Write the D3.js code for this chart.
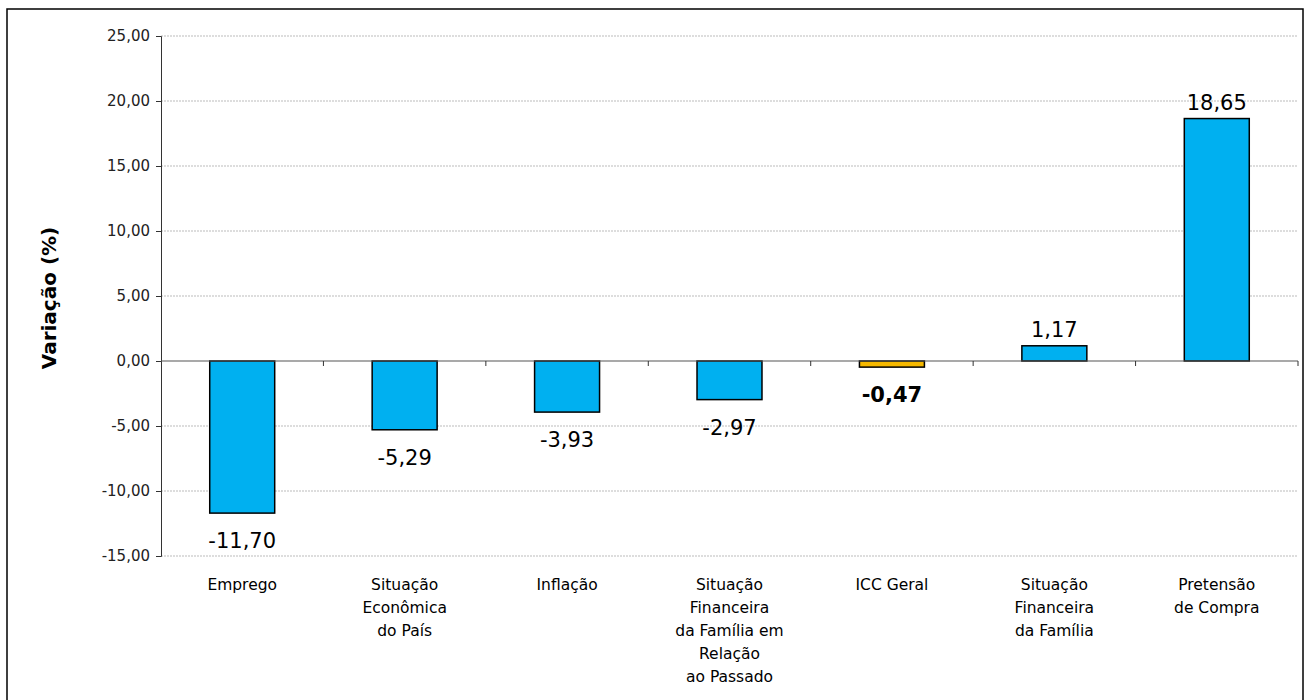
<!DOCTYPE html>
<html><head><meta charset="utf-8">
<script src="https://cdn.jsdelivr.net/npm/d3@7/dist/d3.min.js"></script>
<style>body{margin:0;background:#fff}svg{display:block}</style>
</head><body>
<svg id="c" width="1306" height="700"></svg>
<script>
const categories = [
  ["Emprego"],
  ["Situação","Econômica","do País"],
  ["Inflação"],
  ["Situação","Financeira","da Família em","Relação","ao Passado"],
  ["ICC Geral"],
  ["Situação","Financeira","da Família"],
  ["Pretensão","de Compra"]
];
const values = [-11.70, -5.29, -3.93, -2.97, -0.47, 1.17, 18.65];
const highlight = [false, false, false, false, true, false, false];
const yTicks = [-15, -10, -5, 0, 5, 10, 15, 20, 25];

const svg = d3.select("#c");
const font = "DejaVu Sans, Verdana, sans-serif";
const fmt = v => v.toFixed(2).replace(".", ",");

// frame
svg.append("rect").attr("x",7).attr("y",9).attr("width",1296).attr("height",720)
  .attr("fill","none").attr("stroke","#000").attr("stroke-width",1.5);

const x0 = 161, x1 = 1298;
const y = d3.scaleLinear().domain([-15,25]).range([556,36]);
const x = d3.scaleBand().domain(d3.range(values.length)).range([x0,x1]).paddingInner(0).paddingOuter(0);

// gridlines
svg.append("g").selectAll("line").data(yTicks.filter(t=>t!==0)).join("line")
  .attr("x1",x0).attr("x2",x1).attr("y1",d=>y(d)).attr("y2",d=>y(d))
  .attr("stroke","#bbb").attr("stroke-width",1).attr("stroke-dasharray","2,1");

// y axis
const yAxis = d3.axisLeft(y).tickValues(yTicks).tickSize(5).tickPadding(6).tickFormat(fmt);
const ga = svg.append("g").attr("transform",`translate(${x0},0)`).call(yAxis);
ga.select(".domain").attr("stroke","#333");
ga.selectAll(".tick line").attr("stroke","#333");
ga.selectAll("text").attr("font-family",font).attr("font-size",15).attr("fill","#222");

// bars
const bw = x.bandwidth()*0.4;
svg.append("g").selectAll("rect").data(values).join("rect")
  .attr("x",(d,i)=>x(i)+x.bandwidth()/2-bw/2)
  .attr("width",bw)
  .attr("y",d=>y(Math.max(0,d)))
  .attr("height",d=>Math.abs(y(d)-y(0)))
  .attr("fill",(d,i)=>highlight[i]?"#F5B800":"#00B0F0")
  .attr("stroke","#000").attr("stroke-width",1.5);

// zero line + category ticks
svg.append("line").attr("x1",x0).attr("x2",x1).attr("y1",y(0)).attr("y2",y(0))
  .attr("stroke","#555").attr("stroke-width",1.2);
svg.append("g").selectAll("line").data(d3.range(1,values.length+1)).join("line")
  .attr("x1",i=>x0+i*x.bandwidth()).attr("x2",i=>x0+i*x.bandwidth())
  .attr("y1",y(0)).attr("y2",y(0)+5).attr("stroke","#333");

// value labels
svg.append("g").selectAll("text").data(values).join("text")
  .attr("x",(d,i)=>x(i)+x.bandwidth()/2)
  .attr("y",d=>d>=0? y(d)-9 : y(d)+35)
  .attr("text-anchor","middle")
  .attr("font-family",font).attr("font-size",21)
  .attr("font-weight",(d,i)=>highlight[i]?"bold":"normal")
  .attr("fill","#000")
  .text(fmt);

// category labels
const cg = svg.append("g").selectAll("text").data(categories).join("text")
  .attr("x",(d,i)=>x(i)+x.bandwidth()/2)
  .attr("y",590)
  .attr("text-anchor","middle")
  .attr("font-family",font).attr("font-size",15.5).attr("fill","#000");
cg.selectAll("tspan").data(d=>d).join("tspan")
  .attr("x",function(){return this.parentNode.getAttribute("x");})
  .attr("dy",(d,j)=>j===0?0:23)
  .text(d=>d);

// y title
svg.append("text").attr("transform","translate(56,298) rotate(-90)")
  .attr("text-anchor","middle").attr("font-family",font)
  .attr("font-size",20).attr("font-weight","bold").text("Variação (%)");
</script>
</body></html>
